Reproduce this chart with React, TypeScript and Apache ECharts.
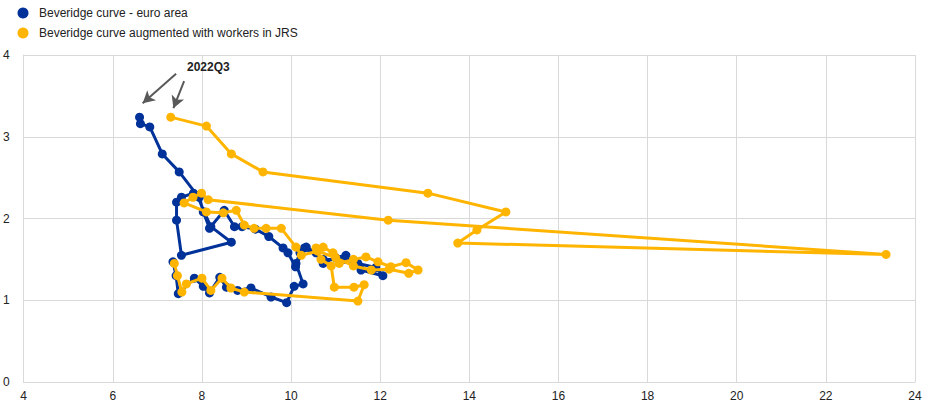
import React, { useEffect, useRef } from "react";
import * as echarts from "echarts";

const seriesNames = ["Beveridge curve - euro area", "Beveridge curve augmented with workers in JRS"];

// [unemployment rate, vacancy rate]
const euroArea: number[][] = [
  [7.35, 1.47], [7.42, 1.3], [7.47, 1.08], [7.83, 1.27], [8.03, 1.17], [8.17, 1.09], [8.4, 1.28],
  [8.55, 1.16], [8.8, 1.12], [9.1, 1.15], [9.55, 1.04], [9.9, 0.97], [10.07, 1.17], [10.27, 1.2],
  [10.11, 1.45], [10.2, 1.58], [10.34, 1.65], [10.56, 1.58], [10.72, 1.45], [11.0, 1.52],
  [11.23, 1.55], [11.57, 1.37], [12.06, 1.3], [11.9, 1.4], [11.5, 1.45], [11.2, 1.5],
  [10.72, 1.5], [10.3, 1.64], [10.1, 1.41], [9.93, 1.58], [9.82, 1.64], [9.5, 1.78],
  [9.2, 1.87], [8.9, 1.9], [8.73, 1.9], [8.5, 2.1], [8.17, 1.88], [8.03, 2.08], [7.94, 2.26],
  [7.81, 2.31], [7.54, 2.26], [7.43, 2.2], [7.43, 1.98], [7.54, 1.55], [8.66, 1.71],
  [8.2, 1.9], [8.05, 2.08], [7.9, 2.28], [7.49, 2.57], [7.11, 2.79], [6.83, 3.12],
  [6.62, 3.16], [6.6, 3.24],
];

const augmentedJRS: number[][] = [
  [7.38, 1.45], [7.45, 1.3], [7.55, 1.1], [7.65, 1.2], [8.0, 1.27], [8.2, 1.12], [8.45, 1.27],
  [8.65, 1.15], [8.95, 1.1], [11.5, 0.99], [11.64, 1.19], [11.41, 1.16], [10.97, 1.16],
  [10.9, 1.42], [10.67, 1.5], [10.56, 1.64], [10.72, 1.65], [10.94, 1.58], [11.08, 1.45],
  [11.4, 1.5], [11.68, 1.53], [11.95, 1.47], [12.24, 1.41], [12.58, 1.46], [12.85, 1.37],
  [12.64, 1.33], [12.2, 1.38], [11.8, 1.37], [11.4, 1.42], [11.0, 1.52], [10.6, 1.6],
  [10.23, 1.55], [10.11, 1.65], [9.78, 1.88], [9.44, 1.88], [9.17, 1.88], [8.95, 1.92],
  [8.77, 2.1], [8.48, 2.07], [8.1, 2.08], [7.6, 2.19], [7.8, 2.26], [7.99, 2.31], [8.14, 2.23],
  [12.18, 1.98], [23.35, 1.56], [13.74, 1.7], [14.17, 1.86], [14.82, 2.08], [13.07, 2.31],
  [9.37, 2.57], [8.66, 2.79], [8.1, 3.13], [7.3, 3.24],
];

// annotation arrows (data coordinates): [start, end]
const arrows: number[][][] = [
  [[7.42, 3.77], [6.67, 3.41]],
  [[7.6, 3.68], [7.36, 3.35]],
];
const annotationText = "2022Q3";

const FONT = "Arial, 'Liberation Sans', sans-serif";

export default function App() {
  const ref = useRef<HTMLDivElement>(null);
  useEffect(() => {
    document.body.style.margin = "0";
    if (!ref.current) return;
    const chart = echarts.init(ref.current, undefined, { renderer: "svg" });
    chart.setOption({
      animation: false,
      backgroundColor: "#ffffff",
      textStyle: { fontFamily: FONT },
      legend: {
        orient: "vertical",
        left: 12.5,
        top: 1,
        itemWidth: 22,
        itemHeight: 11,
        itemGap: 6,
        icon: "circle",
        textStyle: { fontSize: 12, color: "#222", fontFamily: FONT, lineHeight: 14 },
        data: seriesNames,
      },
      grid: { left: 22, right: 30, top: 55, bottom: 27 },
      xAxis: {
        type: "value",
        min: 4,
        max: 24,
        interval: 2,
        axisLine: { show: true, lineStyle: { color: "#d9d9d9", width: 1 } },
        axisTick: { show: false },
        splitLine: { show: true, lineStyle: { color: "#d9d9d9", width: 1 } },
        axisLabel: { color: "#222", fontSize: 12, margin: 8, fontFamily: FONT },
      },
      yAxis: {
        type: "value",
        min: 0,
        max: 4,
        interval: 1,
        axisLine: { show: true, lineStyle: { color: "#d9d9d9", width: 1 } },
        axisTick: { show: false },
        splitLine: { show: true, lineStyle: { color: "#d9d9d9", width: 1 } },
        axisLabel: { color: "#222", fontSize: 12, margin: 14, fontFamily: FONT },
      },
      series: [
        {
          name: seriesNames[0],
          type: "line",
          data: euroArea,
          symbol: "circle",
          symbolSize: 9,
          color: "#003299",
          lineStyle: { width: 3, color: "#003299" },
          itemStyle: { color: "#003299" },
          z: 2,
          markLine: {
            silent: true,
            symbol: ["none", "arrow"],
            symbolSize: [10, 12],
            label: { show: false },
            lineStyle: { color: "#595959", width: 2, type: "solid" },
            data: arrows.map((a) => [
              { coord: a[0], symbol: "none" },
              { coord: a[1], symbol: "arrow" },
            ]),
          },
        },
        {
          name: seriesNames[1],
          type: "line",
          data: augmentedJRS,
          symbol: "circle",
          symbolSize: 9,
          color: "#ffb400",
          lineStyle: { width: 3, color: "#ffb400" },
          itemStyle: { color: "#ffb400" },
          z: 3,
        },
      ],
      graphic: [
        {
          type: "text",
          left: 187,
          top: 61,
          z: 10,
          style: { text: annotationText, font: `bold 12px ${FONT}`, fill: "#222", backgroundColor: "transparent" },
        },
      ],
    });
    return () => chart.dispose();
  }, []);
  return <div ref={ref} style={{ width: 945, height: 409 }} />;
}
